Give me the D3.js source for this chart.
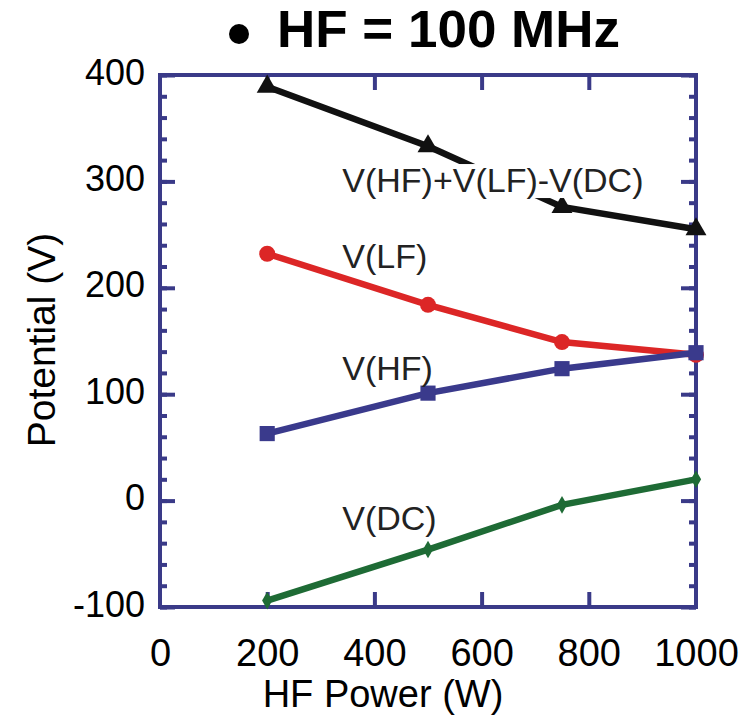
<!DOCTYPE html>
<html><head><meta charset="utf-8">
<script src="https://cdn.jsdelivr.net/npm/d3@7"></script>
<style>body{margin:0;background:#fff;} svg{display:block;font-family:"Liberation Sans",Arial,Helvetica,sans-serif;}</style>
</head><body>
<svg id="c" width="750" height="715"></svg>
<script>
const xTicks = [0,200,400,600,800,1000];
const yTicks = [-100,0,100,200,300,400];
const power = [200,500,750,1000];
const vSum = [389,333,276,255];
const vLF  = [232,184,149,137];
const vHF  = [63,101,124,139];
const vDC  = [-94,-46,-4,20];
const seriesNames = ["V(HF)+V(LF)-V(DC)","V(LF)","V(HF)","V(DC)"];
const labelAt = [[340,290],[340,219],[340,113],[340,-28]];

const frameColor = "#3a3a88";
const colors = ["#111111","#dc2626","#3a3a8c","#1e6b35"];
const symbols = [d3.symbolTriangle, d3.symbolCircle, d3.symbolSquare, d3.symbolDiamond];
const symSize = [190,200,230,90];

const svg = d3.select("#c");
const x = d3.scaleLinear().domain([0,1000]).range([160,696]);
const y = d3.scaleLinear().domain([-100,400]).range([607,75]);

// title
svg.append("circle").attr("cx",239).attr("cy",34).attr("r",10).attr("fill","#000");
svg.append("text").attr("x",277).attr("y",47).attr("font-size",51).attr("font-weight","bold")
  .attr("textLength",343).attr("lengthAdjust","spacingAndGlyphs").text("HF = 100 MHz");

// frame
svg.append("rect").attr("x",x(0)).attr("y",y(400)).attr("width",x(1000)-x(0)).attr("height",y(-100)-y(400))
  .attr("fill","none").attr("stroke",frameColor).attr("stroke-width",4);

const yMinor = d3.range(-100,401,20);
const gL = svg.append("g").attr("transform",`translate(${x(0)},0)`)
  .call(d3.axisLeft(y).tickValues(yMinor).tickSize(-7).tickFormat(""));
const gL2 = svg.append("g").attr("transform",`translate(${x(0)},0)`)
  .call(d3.axisLeft(y).tickValues(yTicks).tickSize(-15).tickFormat(d=>String(d)));
const gR = svg.append("g").attr("transform",`translate(${x(1000)},0)`)
  .call(d3.axisRight(y).tickValues(yMinor).tickSize(-7).tickFormat(""));
const gR2 = svg.append("g").attr("transform",`translate(${x(1000)},0)`)
  .call(d3.axisRight(y).tickValues(yTicks).tickSize(-15).tickFormat(""));
const gB = svg.append("g").attr("transform",`translate(0,${y(-100)})`)
  .call(d3.axisBottom(x).tickValues(xTicks).tickSize(-15).tickFormat(d=>String(d)));
const gT = svg.append("g").attr("transform",`translate(0,${y(400)})`)
  .call(d3.axisTop(x).tickValues(xTicks).tickSize(-15).tickFormat(""));
[gL,gL2,gR,gR2,gB,gT].forEach(g=>{
  g.select(".domain").remove();
  g.selectAll(".tick line").attr("stroke",frameColor).attr("stroke-width",4);
});
gL2.selectAll(".tick text").attr("font-size",36).attr("fill","#000").attr("x",-15).attr("dy","0.25em").style("font-family","inherit");
gB.selectAll(".tick text").attr("font-size",38).attr("fill","#000").attr("y",32).attr("dy","0.71em").style("font-family","inherit");
gB.selectAll(".tick line").filter(d=>d===0||d===1000).remove();
gT.selectAll(".tick line").filter(d=>d===0||d===1000).remove();

// axis titles
svg.append("text").attr("x",383).attr("y",707).attr("text-anchor","middle").attr("font-size",38).text("HF Power (W)");
svg.append("text").attr("transform","translate(55,340) rotate(-90)").attr("text-anchor","middle").attr("font-size",39).text("Potential (V)");

// series
const all = [vSum,vLF,vHF,vDC];
const line = d3.line().x(d=>x(d[0])).y(d=>y(d[1]));
all.forEach((vals,i)=>{
  const pts = power.map((p,j)=>[p,vals[j]]);
  const g = svg.append("g");
  g.append("path").attr("d",line(pts)).attr("fill","none").attr("stroke",colors[i]).attr("stroke-width",6.5);
  g.selectAll("path.m").data(pts).enter().append("path").attr("class","m")
    .attr("transform",d=>`translate(${x(d[0])},${y(d[1])})`)
    .attr("d",d3.symbol().type(symbols[i]).size(symSize[i])).attr("fill",colors[i]);
});

// labels with white backgrounds
seriesNames.forEach((name,i)=>{
  const g = svg.append("g");
  const t = g.append("text").attr("x",x(labelAt[i][0])).attr("y",y(labelAt[i][1]))
    .attr("font-size",34).attr("fill","#222").text(name);
  if(i===0){
    const bb = t.node().getBBox();
    g.insert("rect","text").attr("x",bb.x-3).attr("y",bb.y+3).attr("width",bb.width+6).attr("height",bb.height-4).attr("fill","#fff");
  }
});
</script>
</body></html>
